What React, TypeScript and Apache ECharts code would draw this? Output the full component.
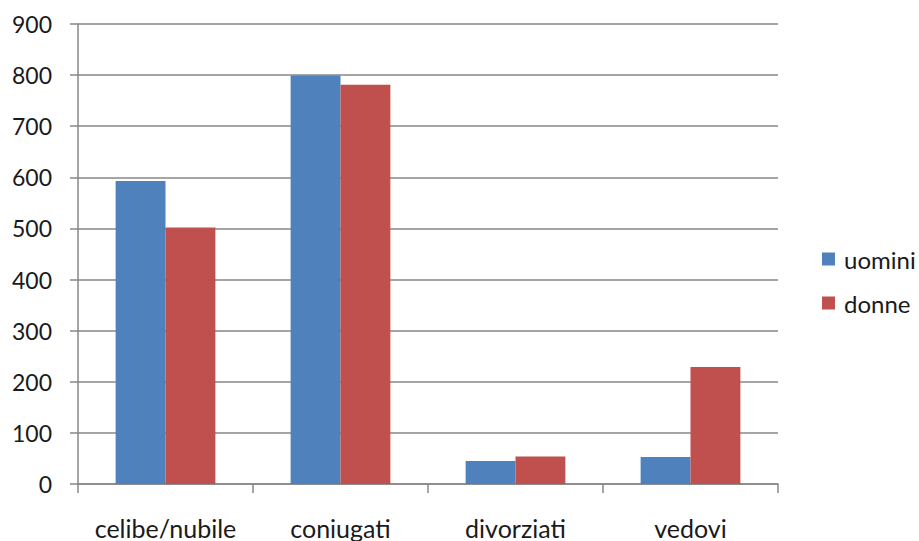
import React, { useEffect, useRef } from "react";
import * as echarts from "echarts";

const categories = ["celibe/nubile", "coniugati", "divorziati", "vedovi"];
const uomini = [593, 799, 45, 53];
const donne = [502, 781, 54, 229];
const seriesNames = ["uomini", "donne"];

const FONT = "Lato, 'Noto Sans', sans-serif";
const AXIS_GRAY = "#878787";
const TEXT = "#1a1a1a";

export default function App() {
  const ref = useRef<HTMLDivElement>(null);

  useEffect(() => {
    if (!ref.current) return;
    const chart = echarts.init(ref.current, null, { renderer: "svg" });
    chart.setOption({
      animation: false,
      backgroundColor: "#ffffff",
      grid: { left: 78, right: 141, top: 24, bottom: 57, containLabel: false },
      legend: {
        orient: "vertical",
        left: 817,
        top: 242,
        itemWidth: 13,
        itemHeight: 13,
        itemGap: 20,
        icon: "rect",
        textStyle: { fontFamily: FONT, fontSize: 24, color: TEXT, padding: [0, 0, 0, 4] },
        data: seriesNames,
      },
      xAxis: {
        type: "category",
        data: categories,
        axisLine: { lineStyle: { color: AXIS_GRAY, width: 1.5 } },
        axisTick: { show: true, length: 9, alignWithLabel: false, lineStyle: { color: AXIS_GRAY, width: 1.5 } },
        axisLabel: { interval: 0, margin: 31, fontFamily: FONT, fontSize: 25, color: TEXT },
        splitLine: { show: false },
      },
      yAxis: {
        type: "value",
        min: 0,
        max: 900,
        interval: 100,
        axisLine: { show: true, lineStyle: { color: AXIS_GRAY, width: 1.5 } },
        axisTick: { show: true, length: 8, lineStyle: { color: AXIS_GRAY, width: 1.5 } },
        axisLabel: { margin: 26, fontFamily: FONT, fontSize: 23, color: TEXT },
        splitLine: { show: true, lineStyle: { color: AXIS_GRAY, width: 1.5 } },
      },
      series: [
        {
          name: seriesNames[0],
          type: "bar",
          data: uomini,
          itemStyle: { color: "#4F81BD" },
          barGap: "0%",
          barCategoryGap: "43%",
        },
        {
          name: seriesNames[1],
          type: "bar",
          data: donne,
          itemStyle: { color: "#C0504D" },
          barGap: "0%",
          barCategoryGap: "43%",
        },
      ],
    });
    return () => chart.dispose();
  }, []);

  return (
    <div
      ref={ref}
      style={{ position: "fixed", left: 0, top: 0, width: 919, height: 541 }}
    />
  );
}
